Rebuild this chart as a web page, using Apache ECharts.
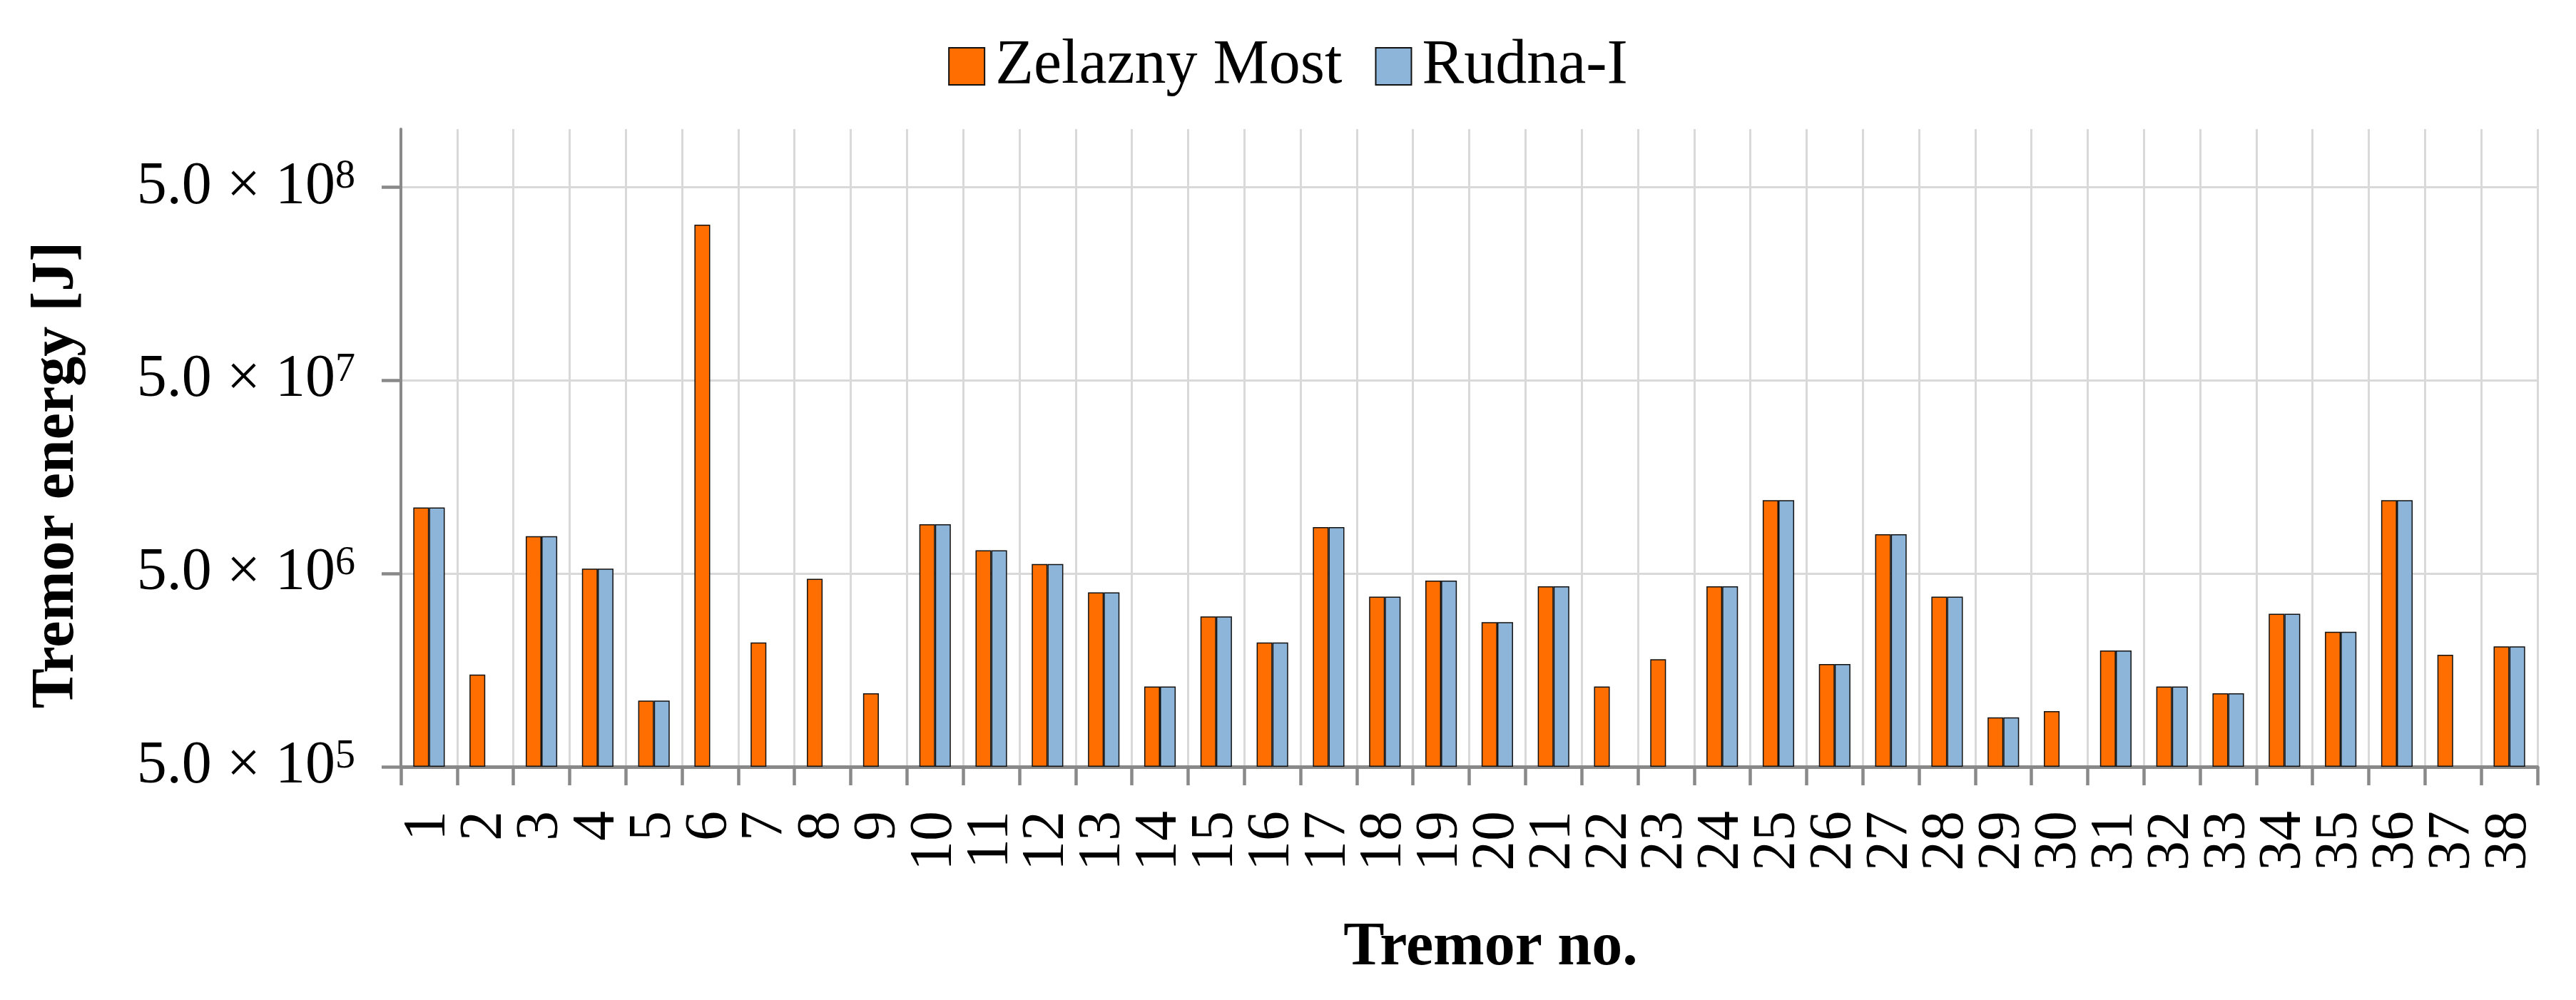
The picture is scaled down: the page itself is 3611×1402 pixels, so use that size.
<!DOCTYPE html>
<html>
<head>
<meta charset="utf-8">
<script src="https://cdn.jsdelivr.net/npm/echarts@6/dist/echarts.min.js"></script>
<style>
  html, body { margin: 0; padding: 0; background: #fff; }
  #chart { width: 3611px; height: 1402px; }
</style>
</head>
<body>
<div id="chart"></div>
<script>
// ---------------- data ----------------
const tremorNo = ['1','2','3','4','5','6','7','8','9','10','11','12','13','14','15','16','17','18','19',
  '20','21','22','23','24','25','26','27','28','29','30','31','32','33','34','35','36','37','38'];

const zelaznyMost = [1.1e7, 1.5e6, 7.8e6, 5.3e6, 1.1e6, 3.2e8, 2.2e6, 4.7e6, 1.2e6, 9.0e6,
  6.6e6, 5.6e6, 4.0e6, 1.3e6, 3.0e6, 2.2e6, 8.7e6, 3.8e6, 4.6e6, 2.8e6,
  4.3e6, 1.3e6, 1.8e6, 4.3e6, 1.2e7, 1.7e6, 8.0e6, 3.8e6, 9.0e5, 9.7e5,
  2.0e6, 1.3e6, 1.2e6, 3.1e6, 2.5e6, 1.2e7, 1.9e6, 2.1e6];

const rudnaI = [1.1e7, null, 7.8e6, 5.3e6, 1.1e6, null, null, null, null, 9.0e6,
  6.6e6, 5.6e6, 4.0e6, 1.3e6, 3.0e6, 2.2e6, 8.7e6, 3.8e6, 4.6e6, 2.8e6,
  4.3e6, null, null, 4.3e6, 1.2e7, 1.7e6, 8.0e6, 3.8e6, 9.0e5, null,
  2.0e6, 1.3e6, 1.2e6, 3.1e6, 2.5e6, 1.2e7, null, 2.1e6];

const yTicks = [5e5, 5e6, 5e7, 5e8];
const yMin = 5e5;
const yMax = 1e9;

// ---------------- chart ----------------
const FONT = 'Liberation Serif';
const AXIS_GREY = '#898989';
const GRID_GREY = '#d9d9d9';

const myChart = echarts.init(document.getElementById('chart'));

const sciLabel = (v) => {
  if (v > 9e8) return '';
  const exp = Math.floor(Math.log10(v) + 1e-9);
  const mant = v / Math.pow(10, exp);
  return '{m|' + mant.toFixed(1) + ' \u00d7 10}{s|' + exp + '}';
};

const barStyle = (color) => ({
  color: color,
  borderColor: '#111',
  borderWidth: 1.5
});

const option = {
  backgroundColor: '#fff',
  animation: false,
  legend: {
    top: 44,
    left: 'center',
    itemWidth: 50,
    itemHeight: 52,
    itemGap: 46,
    icon: 'rect',
    textStyle: { fontFamily: FONT, fontSize: 88, color: '#000', padding: [0, 0, 0, 10] },
    data: ['Zelazny Most', 'Rudna-I']
  },
  grid: {
    left: 562,
    right: 54,
    top: 181,
    bottom: 327,
    outerBoundsMode: 'none'
  },
  xAxis: {
    type: 'category',
    data: tremorNo,
    name: 'Tremor no.',
    nameLocation: 'middle',
    nameGap: 212,
    nameTextStyle: {
      fontFamily: FONT, fontSize: 86, fontWeight: 'bold', color: '#000',
      padding: [0, 0, 0, 60]
    },
    axisLine: { lineStyle: { color: AXIS_GREY, width: 5 } },
    axisTick: { show: true, interval: 0, length: 26, lineStyle: { color: AXIS_GREY, width: 4.5 } },
    axisLabel: {
      interval: 0,
      rotate: 90,
      margin: 62,
      fontFamily: FONT,
      fontSize: 84,
      color: '#000'
    },
    splitLine: { show: true, interval: 0, lineStyle: { color: GRID_GREY, width: 3 } }
  },
  yAxis: {
    type: 'log',
    logBase: 10,
    min: yMin,
    max: yMax,
    interval: 1,
    startValue: yMin,
    name: 'Tremor energy [J]',
    nameLocation: 'middle',
    nameRotate: 90,
    nameGap: 440,
    nameTextStyle: {
      fontFamily: FONT, fontSize: 84, fontWeight: 'bold', color: '#000',
      padding: [0, 76, 0, 0]
    },
    axisLine: { show: true, lineStyle: { color: AXIS_GREY, width: 4 } },
    axisTick: {
      show: true,
      length: 27,
      customValues: yTicks,
      lineStyle: { color: AXIS_GREY, width: 4.5 }
    },
    axisLabel: {
      margin: 64,
      customValues: yTicks,
      formatter: sciLabel,
      rich: {
        m: { fontFamily: FONT, fontSize: 84, lineHeight: 84, color: '#000' },
        s: { fontFamily: FONT, fontSize: 56, lineHeight: 56, color: '#000', verticalAlign: 'top' }
      }
    },
    splitLine: { show: true, lineStyle: { color: GRID_GREY, width: 3 } }
  },
  series: [
    {
      name: 'Zelazny Most',
      type: 'bar',
      data: zelaznyMost,
      barGap: '0%',
      barCategoryGap: '44%',
      clip: true,
      itemStyle: barStyle('#ff6e00')
    },
    {
      name: 'Rudna-I',
      type: 'bar',
      data: rudnaI,
      barGap: '0%',
      barCategoryGap: '44%',
      clip: true,
      itemStyle: barStyle('#8db4d9')
    }
  ]
};

myChart.setOption(option);
</script>
</body>
</html>
